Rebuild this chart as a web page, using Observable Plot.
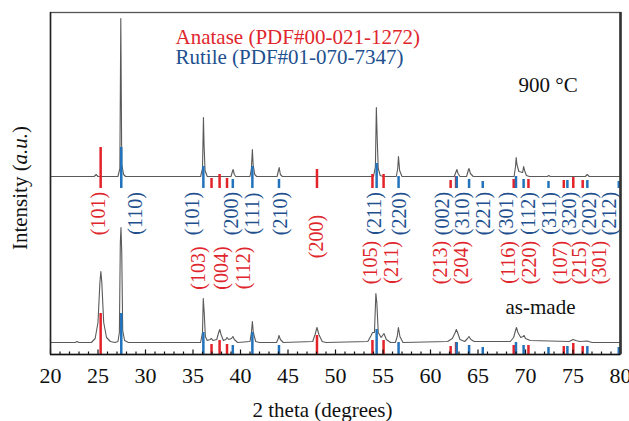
<!DOCTYPE html>
<html><head><meta charset="utf-8">
<script src="https://cdn.jsdelivr.net/npm/d3@7"></script>
<script src="https://cdn.jsdelivr.net/npm/@observablehq/plot@0.6"></script>
<style>
body{margin:0;background:#fff}
svg{display:block}
#chart svg text{font-family:"Liberation Serif",serif !important}
</style>
</head><body><div id="chart"></div>
<script>
// ---- data ----
// 900 °C pattern (intensity above its own baseline)
const t900Theta = [20,24.6,24.8,25.0,27.1,27.3,27.4,27.5,27.7,27.9,35.8,36.0,36.1,36.17,36.27,36.5,39.0,39.15,39.22,39.35,39.5,41.0,41.15,41.25,41.33,41.5,41.7,43.85,44.0,44.07,44.2,44.4,54.0,54.2,54.3,54.4,54.5,54.7,55.0,56.4,56.55,56.63,56.75,57.0,62.5,62.7,62.78,62.9,63.1,63.8,63.97,64.05,64.2,64.5,68.8,68.95,69.02,69.1,69.3,69.7,69.8,69.9,70.1,70.4,72.3,72.45,72.6,76.3,76.5,76.7,80];
const t900I     = [0,0,2,0,0,8,158,12,2,0,0,8,59,30,6,0,0,5,7,2,0,0,8,27,12,2,0,0,6,9,2,0,0,10,69,35,8,1,0,0,8,20,6,0,0,5,7,3,0,0,6,8,3,0,0,10,19,12,5,4,10,6,1,0,0,1,0,0,2,0,0];
// as-made pattern
const tAsTheta = [20,22.6,22.8,23.0,24.3,24.7,25.0,25.2,25.3,25.4,25.6,25.9,26.3,26.8,27.1,27.25,27.35,27.42,27.5,27.6,27.8,28.2,35.8,36.0,36.08,36.18,36.3,36.5,36.8,36.95,37.1,37.5,37.7,37.82,37.95,38.2,38.45,38.58,38.75,39.05,39.2,39.35,39.7,41.0,41.15,41.25,41.35,41.6,42.0,43.8,43.97,44.05,44.2,44.5,47.6,47.85,48.05,48.25,48.6,49.0,53.4,53.75,53.9,54.1,54.25,54.35,54.5,54.8,55.1,55.35,55.8,56.3,56.5,56.62,56.78,57.1,61.8,62.3,62.6,62.72,62.85,63.1,63.6,63.9,64.05,64.25,64.6,68.4,68.75,68.95,69.05,69.2,69.5,69.75,69.85,70.0,70.5,74.6,75.0,75.3,75.7,76.5,77.0,80];
const tAsI     = [0,0,1,0,0,4,20,60,71,60,20,5,1,0,1,10,100,115,90,12,2,0,0,10,44,30,6,2,3,4,2,3,10,13,8,2,3,5,3,4,6,3,0,1,10,21,10,1,0,0,4,7,3,0,1,8,15,8,1,0,1,7,10,10,49,40,10,5,9,3,0,0,6,15,6,0,1,4,10,13,10,3,1,4,6,3,1,1,5,12,15,10,5,6,7,4,2,1,3,2,1,1.5,0,0];

// reference reflections
const anataseHKL   = ["(101)","(103)","(004)","(112)","(200)","(105)","(211)","(213)","(204)","(116)","(220)","(107)","(215)","(301)"];
const anataseTheta = [25.28,36.95,37.80,38.58,48.05,53.89,55.06,62.12,62.69,68.76,70.31,74.03,75.03,76.02];
const anataseLen   = [41,10,14,10,19,14,14,8,12,9,9,8,11,8];
const anataseLabelTheta = [25.1,35.6,38.0,40.3,48.05,53.7,55.9,61.05,63.3,68.2,70.4,73.7,75.7,77.8];
const anataseLabelRow   = [1,4,4,4,2,3,3,3,3,3,3,3,3,3];

const rutileHKL   = ["(110)","(101)","(200)","(111)","(210)","(211)","(220)","(002)","(310)","(221)","(301)","(112)","(311)","(320)","(202)","(212)"];
const rutileTheta = [27.45,36.09,39.19,41.25,44.05,54.33,56.64,62.76,64.06,65.50,69.00,69.80,72.42,74.41,76.51,79.82];
const rutileLen   = [41,22,9,22,9,25,12,12,9,7,12,9,7,8,8,7];
const rutileLabelTheta = [28.95,34.95,39.1,41.3,44.2,54.1,56.7,61.3,63.4,65.6,68.05,70.3,72.5,74.6,76.7,78.8];
const rutileLabelRow   = [1,1,1,1,1,1,1,1,1,1,1,1,1,1,1,1];

const xTicks = [20,25,30,35,40,45,50,55,60,65,70,75,80];

// ---- layout constants ----
const baseAs = 12, base900 = 178, barBaseAs = 0, barBase900 = 166;
const rowLevel = {1: 141, 2: 118, 3: 92, 4: 86.5};
const RED = "#e3232a", BLUE_BAR = "#2273bb", BLUE_TXT = "#22508f", RED_TXT = "#e0262d";
const FF = "Liberation Serif";

const t900 = t900Theta.map((x, i) => ({x, y: t900I[i] + base900}));
const tAs = tAsTheta.map((x, i) => ({x, y: tAsI[i] + baseAs}));
const bars = (thetas, lens) => [barBaseAs, barBase900].flatMap(b => thetas.map((t, i) => ({x: t, y1: b, y2: b + lens[i]})));
const aBars = bars(anataseTheta, anataseLen);
const rBars = bars(rutileTheta, rutileLen);
const aLabels = anataseHKL.map((h, i) => ({h, x: anataseLabelTheta[i], y: rowLevel[anataseLabelRow[i]]}));
const rLabels = rutileHKL.map((h, i) => ({h, x: rutileLabelTheta[i], y: rowLevel[rutileLabelRow[i]]}));
const minor = d3.range(20, 81, 1).filter(v => v % 5 !== 0);

const T = {fontFamily: FF};
const chart = Plot.plot({
  width: 629, height: 421,
  marginLeft: 50, marginRight: 9, marginTop: 12, marginBottom: 67,
  x: {domain: [20, 80]},
  y: {domain: [0, 342], axis: null},
  marks: [
    Plot.line(tAs, {x: "x", y: "y", stroke: "#5a5a5a", strokeWidth: 1.1}),
    Plot.line(t900, {x: "x", y: "y", stroke: "#5a5a5a", strokeWidth: 1.1}),
    Plot.ruleX(aBars, {x: "x", y1: "y1", y2: "y2", stroke: RED, strokeWidth: 2.5}),
    Plot.ruleX(rBars, {x: "x", y1: "y1", y2: "y2", stroke: BLUE_BAR, strokeWidth: 2.5}),
    Plot.text(aLabels, {...T, x: "x", y: "y", text: "h", rotate: -90, fill: RED_TXT, fontSize: 20, textAnchor: "middle", lineAnchor: "middle"}),
    Plot.text(rLabels, {...T, x: "x", y: "y", text: "h", rotate: -90, fill: BLUE_TXT, fontSize: 20, textAnchor: "middle", lineAnchor: "middle"}),
    Plot.ruleX(xTicks, {y1: 0, y2: 4.5, stroke: "#111", strokeWidth: 1.2}),
    Plot.ruleX(minor, {y1: 0, y2: 2.5, stroke: "#111", strokeWidth: 1.2}),
    Plot.axisX({...T, ticks: xTicks, tickSize: 0, tickPadding: 12.4, fontSize: 22, label: null, fill: "#111"}),
    Plot.frame({stroke: "#555", strokeWidth: 1.3}),
    Plot.ruleY([0], {stroke: "#111", strokeWidth: 1.6}),
    Plot.ruleX([20], {stroke: "#222", strokeWidth: 1.5}),
    Plot.ruleX([80], {stroke: "#333", strokeWidth: 2.6}),
    Plot.text(["Anatase (PDF#00-021-1272)"], {...T, frameAnchor: "top-left", dx: 125, dy: 24.6, textAnchor: "start", lineAnchor: "middle", fontSize: 21, fill: RED_TXT}),
    Plot.text(["Rutile (PDF#01-070-7347)"], {...T, frameAnchor: "top-left", dx: 125, dy: 44.6, textAnchor: "start", lineAnchor: "middle", fontSize: 21, fill: BLUE_TXT}),
    Plot.text(["900 °C"], {...T, frameAnchor: "top-left", dx: 468, dy: 72.3, textAnchor: "start", lineAnchor: "middle", fontSize: 21, fill: "#111"}),
    Plot.text(["as-made"], {...T, frameAnchor: "top-left", dx: 455, dy: 294.3, textAnchor: "start", lineAnchor: "middle", fontSize: 21, fill: "#111"}),
    Plot.text(["2 theta (degrees)"], {...T, frameAnchor: "bottom", dx: -13, dy: 55.8, textAnchor: "middle", lineAnchor: "middle", fontSize: 21, fill: "#111"}),
    Plot.text(["Intensity (a.u.)"], {...T, frameAnchor: "left", dx: -30, dy: 4.5, rotate: -90, textAnchor: "middle", lineAnchor: "middle", fontSize: 21, fill: "#111"})
  ]
});
chart.style.background = "white";
document.getElementById("chart").appendChild(chart);
// italic "a.u."
d3.select(chart).selectAll("text").each(function() {
  if (this.textContent === "Intensity (a.u.)") {
    this.innerHTML = 'Intensity (<tspan font-style="italic">a.u.</tspan>)';
  }
});
</script></body></html>
